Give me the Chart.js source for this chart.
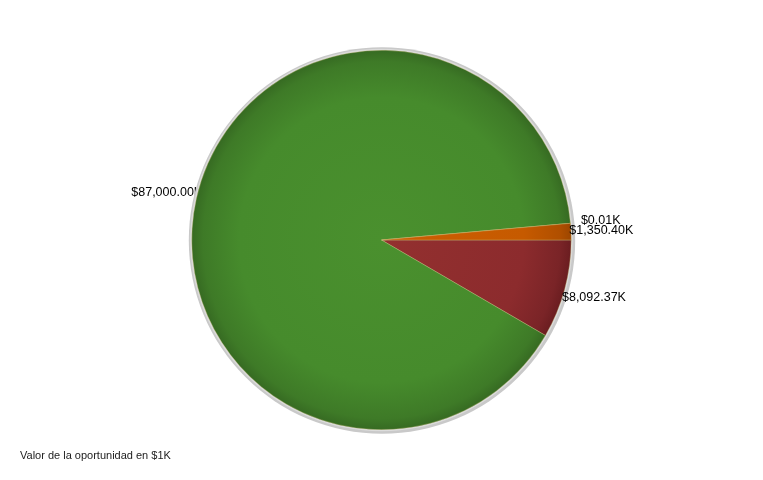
<!DOCTYPE html>
<html>
<head>
<meta charset="utf-8">
<script src="https://cdn.jsdelivr.net/npm/chart.js@4"></script>
<style>
html,body{margin:0;padding:0;background:#fff;}
#wrap{width:763px;height:480px;}
</style>
</head>
<body>
<div id="wrap"><canvas id="c" width="763" height="480"></canvas></div>
<script>
// Data (values in $1K), in clockwise order starting at 3 o'clock
const categories = ['$8,092.37K', '$87,000.00K', '$0.01K', '$1,350.40K'];
const values = [8092.37, 87000.00, 0.01, 1350.40];
const pieLabels = ['$8,092.37K', '$87,000.00K', '$0.01K', '$1,350.40K'];
const footerText = 'Valor de la oportunidad en $1K';

const colorStops = [
  ['#93302f', '#8c2b2d', '#7a2427', '#6a1d20'],
  ['#4a902e', '#468b2c', '#3e7a27', '#366a22'],
  ['#8fa030', '#8fa030', '#7f8f2a', '#6f7f24'],
  ['#cc5e02', '#c65a00', '#b04f00', '#9c4600']
];

function sliceColor(ctx) {
  const chart = ctx.chart;
  const area = chart.chartArea;
  const i = ctx.dataIndex;
  if (!area) return colorStops[i][1];
  const cx = (area.left + area.right) / 2;
  const cy = (area.top + area.bottom) / 2;
  const r = Math.min(area.right - area.left, area.bottom - area.top) / 2;
  const g = chart.ctx.createRadialGradient(cx, cy, 0, cx, cy, r);
  g.addColorStop(0, colorStops[i][0]);
  g.addColorStop(0.75, colorStops[i][1]);
  g.addColorStop(0.94, colorStops[i][2]);
  g.addColorStop(1, colorStops[i][3]);
  return g;
}

function drawLabels(chart, leftSide) {
  const c = chart.ctx;
  const meta = chart.getDatasetMeta(0);
  const arc0 = meta.data[0];
  const cx = arc0.x, cy = arc0.y, R = arc0.outerRadius;
  c.save();
  c.font = '12.5px "Liberation Sans", Arial, sans-serif';
  c.fillStyle = '#000';
  c.textAlign = 'center';
  c.textBaseline = 'middle';
  meta.data.forEach((arc, i) => {
    const a = (arc.startAngle + arc.endAngle) / 2;
    const rr = R * 1.16;
    const x = cx + Math.cos(a) * rr, y = cy + Math.sin(a) * rr;
    if ((x < cx) === leftSide) c.fillText(pieLabels[i], x, y);
  });
  c.restore();
}

const decor = {
  id: 'decor',
  beforeDatasetsDraw(chart) {
    const c = chart.ctx;
    const arc0 = chart.getDatasetMeta(0).data[0];
    const cx = arc0.x, cy = arc0.y, R = arc0.outerRadius;
    drawLabels(chart, true);
    c.save();
    c.beginPath();
    c.arc(cx + 0.5, cy + 0.5, R + 3.5, 0, Math.PI * 2);
    c.fillStyle = '#c9c9c9';
    c.fill();
    c.beginPath();
    c.arc(cx, cy, R + 1.5, 0, Math.PI * 2);
    c.fillStyle = '#dcdcdc';
    c.fill();
    c.restore();
  },
  afterDatasetsDraw(chart) {
    drawLabels(chart, false);
  },
  afterDraw(chart) {
    const c = chart.ctx;
    c.save();
    c.font = '11px "Liberation Sans", Arial, sans-serif';
    c.fillStyle = '#222';
    c.textAlign = 'left';
    c.textBaseline = 'middle';
    c.fillText(footerText, 20, 456);
    c.restore();
  }
};

new Chart(document.getElementById('c'), {
  type: 'pie',
  data: {
    labels: categories,
    datasets: [{
      data: values,
      backgroundColor: sliceColor,
      borderWidth: 0.6,
      borderColor: 'rgba(200,190,120,0.6)'
    }]
  },
  options: {
    responsive: false,
    animation: false,
    rotation: 90,
    layout: { padding: { top: 50, bottom: 50, left: 0, right: 0 } },
    plugins: {
      legend: { display: false },
      tooltip: { enabled: false },
      title: { display: false }
    }
  },
  plugins: [decor]
});
</script>
</body>
</html>
